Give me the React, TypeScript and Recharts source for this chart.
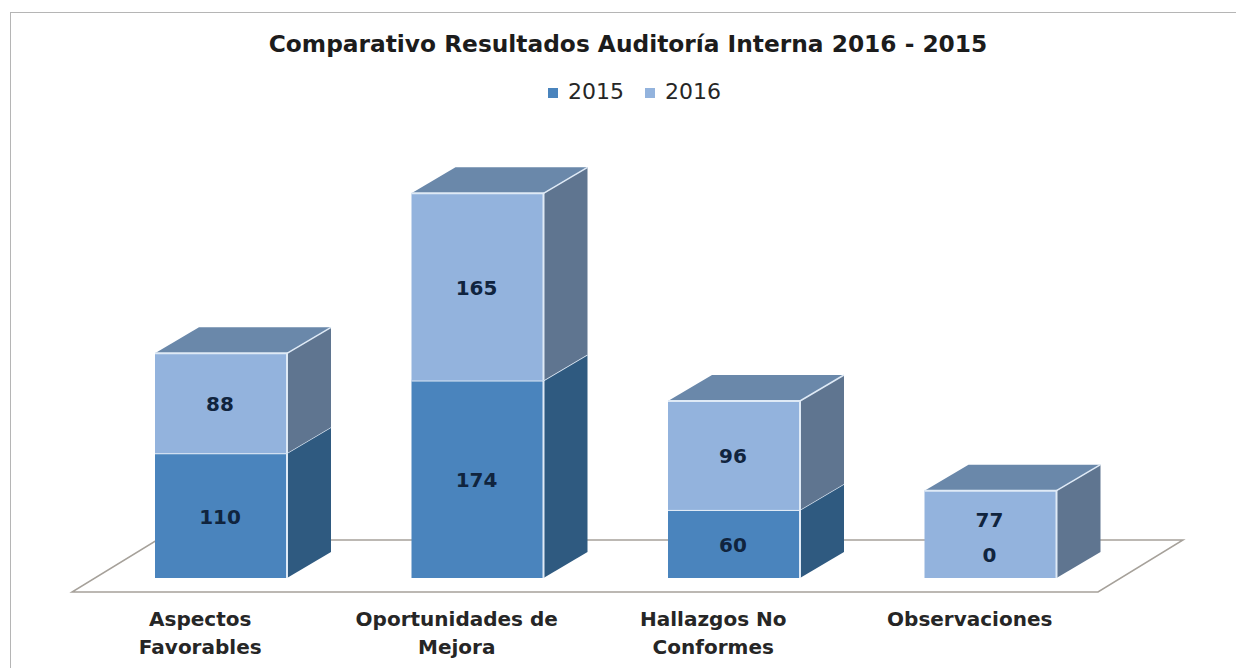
import { BarChart, Bar, XAxis, YAxis, Legend, LabelList, usePlotArea } from 'recharts';

const categories = ['Aspectos Favorables', 'Oportunidades de Mejora', 'Hallazgos No Conformes', 'Observaciones'];
const values2015 = [110, 174, 60, 0];
const values2016 = [88, 165, 96, 77];
// labels that were moved by hand in the original
const labelShift2015 = [0, 0, 0, -24];
const labelShift2016 = [0, 0, 0, -15];

const data = categories.map((name, i) => ({
	name,
	y2015: values2015[i],
	y2016: values2016[i],
}));

const FONT = '"DejaVu Sans", sans-serif';
const DEPTH_X = 44;
const DEPTH_Y = 26;

function Floor() {
	const plot = usePlotArea();
	if (!plot) return null;
	const bottom = plot.y + plot.height;
	const front = bottom + 14;
	const back = bottom - 38;
	const points = [
		[plot.x - 21, front],
		[plot.x + plot.width - 21, front],
		[plot.x + plot.width + 64, back],
		[plot.x + 64, back],
	];
	return <polygon points={points.map((p) => p.join(',')).join(' ')} fill="#fff" stroke="#a6a19a" strokeWidth={1.5} />;
}

function makeBox(sideColor: string, topColor: string) {
	return function Box(props: any) {
		const { x, y, width, height, fill } = props;
		if (!height) return null;
		const r = x + width;
		const b = y + height;
		return (
			<g>
				<polygon
					points={`${x},${y} ${x + DEPTH_X},${y - DEPTH_Y} ${r + DEPTH_X},${y - DEPTH_Y} ${r},${y}`}
					fill={topColor}
				/>
				<polygon
					points={`${r},${y} ${r + DEPTH_X},${y - DEPTH_Y} ${r + DEPTH_X},${b - DEPTH_Y} ${r},${b}`}
					fill={sideColor}
				/>
				<rect x={x} y={y} width={width} height={height} fill={fill} />
				<polyline points={`${x},${y} ${r},${y} ${r},${b}`} fill="none" stroke="#dfeaf6" strokeWidth={2} />
				<line x1={r} y1={y} x2={r + DEPTH_X} y2={y - DEPTH_Y} stroke="#dfeaf6" strokeWidth={1.5} />
			</g>
		);
	};
}

function makeValueLabel(shifts: number[]) {
	return function ValueLabel(props: any) {
		const { x, y, width, height, value, index } = props;
		return (
			<text
				x={x + width / 2 - 1}
				y={y + height / 2 + shifts[index] + 1}
				textAnchor="middle"
				dominantBaseline="central"
				fontFamily={FONT}
				fontSize={20}
				fontWeight={700}
				fill="#10243e"
			>
				{value}
			</text>
		);
	};
}

function CategoryTick(props: any) {
	const { x, payload } = props;
	const words = String(payload.value).split(' ');
	const lines = words.length > 1 ? [words.slice(0, -1).join(' '), words[words.length - 1]] : words;
	return (
		<text textAnchor="middle" fontFamily={FONT} fontSize={20} fontWeight={700} fill="#262626">
			{lines.map((line, i) => (
				<tspan key={line} x={x - 21} y={626 + i * 28}>
					{line}
				</tspan>
			))}
		</text>
	);
}

function App() {
	return (
		<div style={{ position: 'absolute', left: 0, top: 0, width: 1236, height: 668, background: '#fff', overflow: 'hidden' }}>
			<div
				style={{
					position: 'absolute',
					left: 10,
					top: 12,
					width: 1300,
					height: 700,
					border: '1.5px solid #b5b5b5',
				}}
			/>
			<div
				style={{
					position: 'absolute',
					left: 0,
					top: 30,
					width: 1256,
					textAlign: 'center',
					fontFamily: FONT,
					fontSize: 23.3,
					fontWeight: 700,
					color: '#1c1c1c',
				}}
			>
				Comparativo Resultados Auditoría Interna 2016 - 2015
			</div>
			<BarChart
				width={1236}
				height={668}
				data={data}
				margin={{ top: 110, right: 117, bottom: 0, left: 93 }}
				barSize={132}
				style={{ position: 'absolute', left: 0, top: 0 }}
			>
				<Floor />
				<XAxis dataKey="name" height={90} axisLine={false} tickLine={false} tick={CategoryTick} interval={0} />
				<YAxis hide domain={[0, 386]} />
				<Legend
					verticalAlign="top"
					height={30}
					iconType="square"
					iconSize={10}
					wrapperStyle={{ top: 79, left: 132, fontFamily: FONT, fontSize: 22 }}
					formatter={(value) => <span style={{ color: '#262626', marginLeft: 6, marginRight: 11 }}>{value}</span>}
				/>
				<Bar dataKey="y2015" name="2015" stackId="a" fill="#4a84bd" shape={makeBox('#2f5a80', '#6a88aa')} isAnimationActive={false}>
					<LabelList dataKey="y2015" content={makeValueLabel(labelShift2015)} />
				</Bar>
				<Bar dataKey="y2016" name="2016" stackId="a" fill="#93b3dd" shape={makeBox('#5f7590', '#6a88aa')} isAnimationActive={false}>
					<LabelList dataKey="y2016" content={makeValueLabel(labelShift2016)} />
				</Bar>
			</BarChart>
		</div>
	);
}

export default App;
